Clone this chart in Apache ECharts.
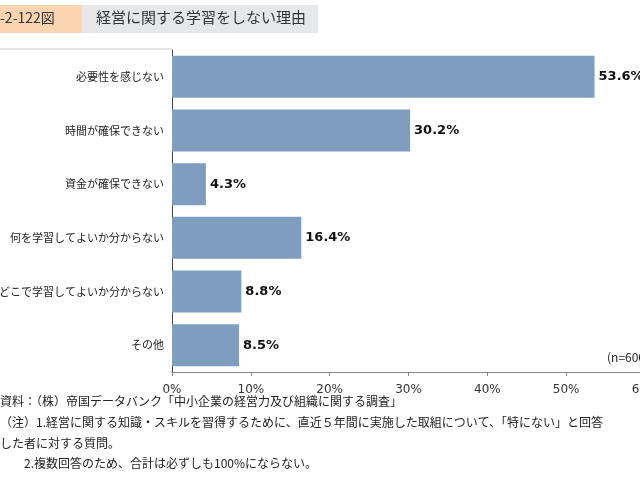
<!DOCTYPE html>
<html><head><meta charset="utf-8">
<script src="https://cdn.jsdelivr.net/npm/echarts@6/dist/echarts.min.js"></script>
<style>html,body{margin:0;padding:0;background:#fff}#main{width:640px;height:498px}</style>
</head><body><div id="main"></div>
<script>
// 経営に関する学習をしない理由
var categories = ['必要性を感じない', '時間が確保できない', '資金が確保できない', '何を学習してよいか分からない', 'どこで学習してよいか分からない', 'その他'];
var values = [53.6, 30.2, 4.3, 16.4, 8.8, 8.5];
var tickLabels = ['0%', '10%', '20%', '30%', '40%', '50%', '60%'];
var notes = [
    '資料：（株）帝国データバンク「中小企業の経営力及び組織に関する調査」',
    '（注）1.経営に関する知識・スキルを習得するために、直近５年間に実施した取組について、「特にない」と回答',
    'した者に対する質問。',
    '　　2.複数回答のため、合計は必ずしも100%にならない。'
];

var font = '"Noto Sans CJK JP", sans-serif';
var chart = echarts.init(document.getElementById('main'));
var option = {
    animation: false,
    textStyle: { fontFamily: font },
    grid: { left: 172, right: -5, top: 50, bottom: 126, containLabel: false, outerBoundsMode: 'none' },
    xAxis: {
        type: 'value', min: 0, max: 60, interval: 10,
        axisLine: { show: true, lineStyle: { color: '#888' } },
        axisTick: { show: true, length: 4, lineStyle: { color: '#888' } },
        splitLine: { show: false },
        axisLabel: { color: '#333', fontSize: 12, margin: 12, fontFamily: 'DejaVu Sans',
            formatter: function(v) { return tickLabels[v / 10]; } }
    },
    yAxis: {
        type: 'category', inverse: true, data: categories,
        axisLine: { show: true, lineStyle: { color: '#444' } },
        axisTick: { show: false },
        axisLabel: { color: '#222', fontSize: 11, margin: 8 }
    },
    series: [{
        type: 'bar', data: values, barWidth: 42,
        itemStyle: { color: '#7f9ebf' },
        label: { show: true, position: 'right', distance: 4, color: '#111', fontWeight: 'bold',
            fontSize: 13, fontFamily: 'DejaVu Sans', formatter: function(p) { return p.value.toFixed(1) + '%'; } }
    }],
    graphic: [
        { type: 'rect', shape: { x: 0, y: 5, width: 82, height: 28 }, style: { fill: '#fbd4b2' } },
        { type: 'rect', shape: { x: 82, y: 5, width: 236, height: 28 }, style: { fill: '#e6e7e9' } },
        { type: 'text', left: 0, top: 11, style: { text: '-2-122図', font: '14px ' + font, fill: '#333' } },
        { type: 'text', left: 96, top: 10, style: { text: '経営に関する学習をしない理由', font: '15px ' + font, fill: '#333' } },
        { type: 'line', shape: { x1: 0, y1: 49, x2: 172, y2: 49 }, style: { stroke: '#ccc', lineWidth: 1 } },
        { type: 'text', left: 607, top: 351, style: { text: '(n=606)', font: '12px ' + font, fill: '#222' } },
        { type: 'text', left: 0, top: 395, style: { text: notes[0], font: '12px ' + font, fill: '#222' } },
        { type: 'text', left: 0, top: 416, style: { text: notes[1], font: '12px ' + font, fill: '#222' } },
        { type: 'text', left: 0, top: 437, style: { text: notes[2], font: '12px ' + font, fill: '#222' } },
        { type: 'text', left: 0, top: 457, style: { text: notes[3], font: '12px ' + font, fill: '#222' } }
    ]
};
chart.setOption(option);
</script>
</body></html>
